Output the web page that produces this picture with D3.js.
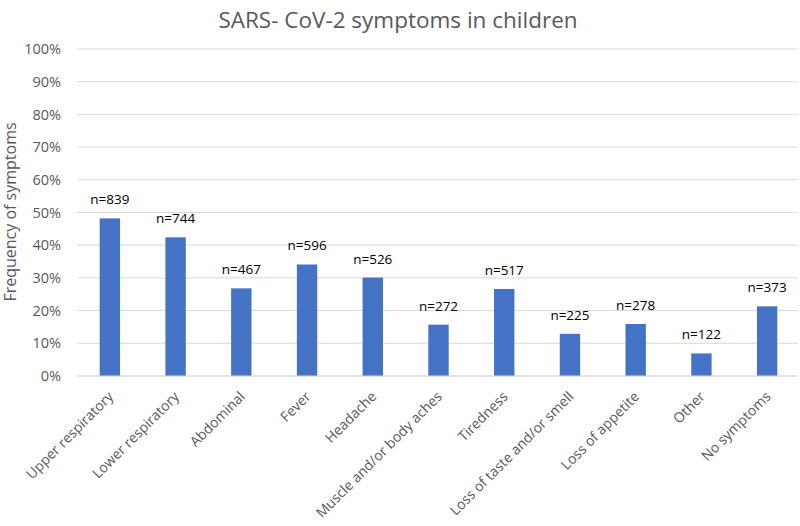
<!DOCTYPE html>
<html><head><meta charset="utf-8">
<script src="https://cdn.jsdelivr.net/npm/d3@7"></script>
<style>body{margin:0;background:#fff}svg{display:block}</style>
</head><body>
<svg id="c" width="800" height="526"></svg>
<script>
const categories = ["Upper respiratory","Lower respiratory","Abdominal","Fever","Headache","Muscle and/or body aches","Tiredness","Loss of taste and/or smell","Loss of appetite","Other","No symptoms"];
const values = [48.2, 42.4, 26.8, 34.1, 30.1, 15.7, 26.6, 12.9, 15.9, 6.9, 21.3];
const counts = [839, 744, 467, 596, 526, 272, 517, 225, 278, 122, 373];
const yTicks = [0,10,20,30,40,50,60,70,80,90,100];
const title = "SARS- CoV-2 symptoms in children";
const yTitle = "Frequency of symptoms";

const font = "'Open Sans', 'Noto Sans', sans-serif";
const svg = d3.select("#c");
const m = {l:77, r:0, t:49, b:150};
const W = 800, H = 526;
const x = d3.scaleBand().domain(categories).range([m.l, W - m.r]).paddingInner(0.69).paddingOuter(0.345);
const y = d3.scaleLinear().domain([0,100]).range([376, 49]);

// gridlines
svg.append("g").selectAll("line").data(yTicks).join("line")
  .attr("x1", m.l).attr("x2", W - 2)
  .attr("y1", d => y(d)).attr("y2", d => y(d))
  .attr("stroke", "#d9d9d9").attr("stroke-width", 1);

// y axis labels
const yAxis = d3.axisLeft(y).tickValues(yTicks).tickFormat(d => d + "%").tickSize(0).tickPadding(0);
const ya = svg.append("g").attr("transform", `translate(${61},0)`).call(yAxis);
ya.select(".domain").remove();
ya.selectAll("text").attr("font-family", font).attr("font-size", 14.5).attr("fill", "#595959");

// bars
svg.append("g").selectAll("rect").data(values).join("rect")
  .attr("x", (d,i) => x(categories[i]))
  .attr("width", x.bandwidth())
  .attr("y", d => y(d))
  .attr("height", d => y(0) - y(d))
  .attr("fill", "#4472C4");

// n labels
svg.append("g").selectAll("text").data(values).join("text")
  .attr("x", (d,i) => x(categories[i]) + x.bandwidth()/2)
  .attr("y", d => y(d) - 14)
  .attr("text-anchor", "middle")
  .attr("font-family", font).attr("font-size", 13.5).attr("fill", "#000")
  .text((d,i) => "n=" + counts[i]);

// x axis line
svg.append("line").attr("x1", m.l).attr("x2", W - 2).attr("y1", y(0)).attr("y2", y(0))
  .attr("stroke", "#d9d9d9");

// x labels
svg.append("g").selectAll("text").data(categories).join("text")
  .attr("transform", d => `translate(${x(d) + x.bandwidth()/2 + 1},${394}) rotate(-45)`)
  .attr("text-anchor", "end")
  .attr("dy", "0.35em")
  .attr("font-family", font).attr("font-size", 14).attr("fill", "#595959")
  .text(d => d);

// title
svg.append("text").attr("x", 398).attr("y", 28).attr("text-anchor", "middle")
  .attr("font-family", font).attr("font-size", 22.5).attr("fill", "#595959").text(title);

// y title
svg.append("text").attr("transform", `translate(16,${212}) rotate(-90)`)
  .attr("text-anchor", "middle")
  .attr("font-family", font).attr("font-size", 16).attr("fill", "#595959").text(yTitle);
</script>
</body></html>
